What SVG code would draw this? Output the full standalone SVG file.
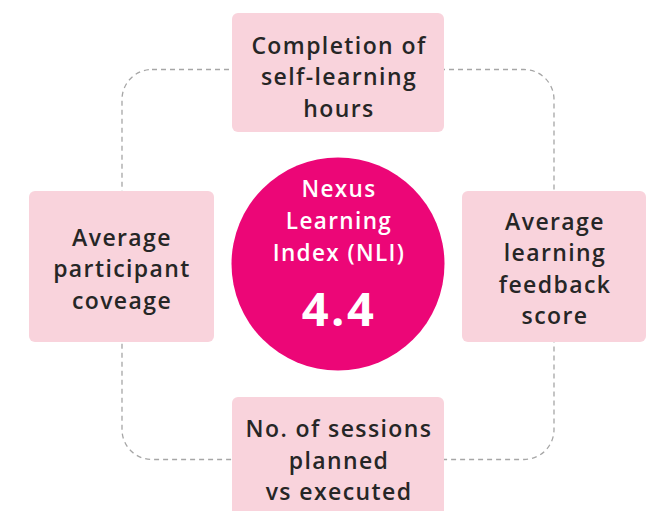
<svg xmlns="http://www.w3.org/2000/svg" width="661" height="511" viewBox="0 0 661 511">
<style>
.box{fill:#f9d3dc;}
.bt{font-family:"Open Sans","Liberation Sans",sans-serif;font-weight:600;font-size:23px;letter-spacing:1.4px;fill:#262626;text-anchor:middle;}
.ct{font-family:"Open Sans","Liberation Sans",sans-serif;font-weight:600;font-size:22.5px;letter-spacing:1.4px;fill:#ffffff;text-anchor:middle;}
.big{font-family:"Open Sans","Liberation Sans",sans-serif;font-weight:700;font-size:47px;letter-spacing:2.5px;fill:#ffffff;text-anchor:middle;}
.dash{fill:none;stroke:#a6a6a6;stroke-width:1.3;stroke-dasharray:5 4;}
</style>
<rect width="661" height="511" fill="#ffffff"/>
<g id="connectors">
<rect class="dash" x="122" y="69.5" width="432" height="390" rx="30"/>
</g>
<g id="node-top">
<rect class="box" x="232" y="13" width="212" height="119" rx="6"/>
<text class="bt" x="339" y="53.5">Completion of</text>
<text class="bt" x="339" y="85">self-learning</text>
<text class="bt" x="339" y="116.5">hours</text>
</g>
<g id="node-left">
<rect class="box" x="29" y="191" width="185" height="151" rx="6"/>
<text class="bt" x="122" y="245.5">Average</text>
<text class="bt" x="122" y="277">participant</text>
<text class="bt" x="122" y="308.5">coveage</text>
</g>
<g id="node-right">
<rect class="box" x="462" y="191" width="184" height="151" rx="6"/>
<text class="bt" x="555" y="229.5">Average</text>
<text class="bt" x="555" y="261">learning</text>
<text class="bt" x="555" y="292.5">feedback</text>
<text class="bt" x="555" y="324">score</text>
</g>
<g id="node-bottom">
<rect class="box" x="232" y="397" width="212" height="125" rx="6"/>
<text class="bt" x="339" y="437">No. of sessions</text>
<text class="bt" x="339" y="468.5">planned</text>
<text class="bt" x="339" y="500">vs executed</text>
</g>
<g id="node-center">
<circle cx="338" cy="264" r="106.5" fill="#ec0677"/>
<text class="ct" x="339" y="197">Nexus</text>
<text class="ct" x="339" y="229">Learning</text>
<text class="ct" x="339" y="261">Index (NLI)</text>
<text class="big" x="339" y="325.5">4.4</text>
</g>
</svg>
